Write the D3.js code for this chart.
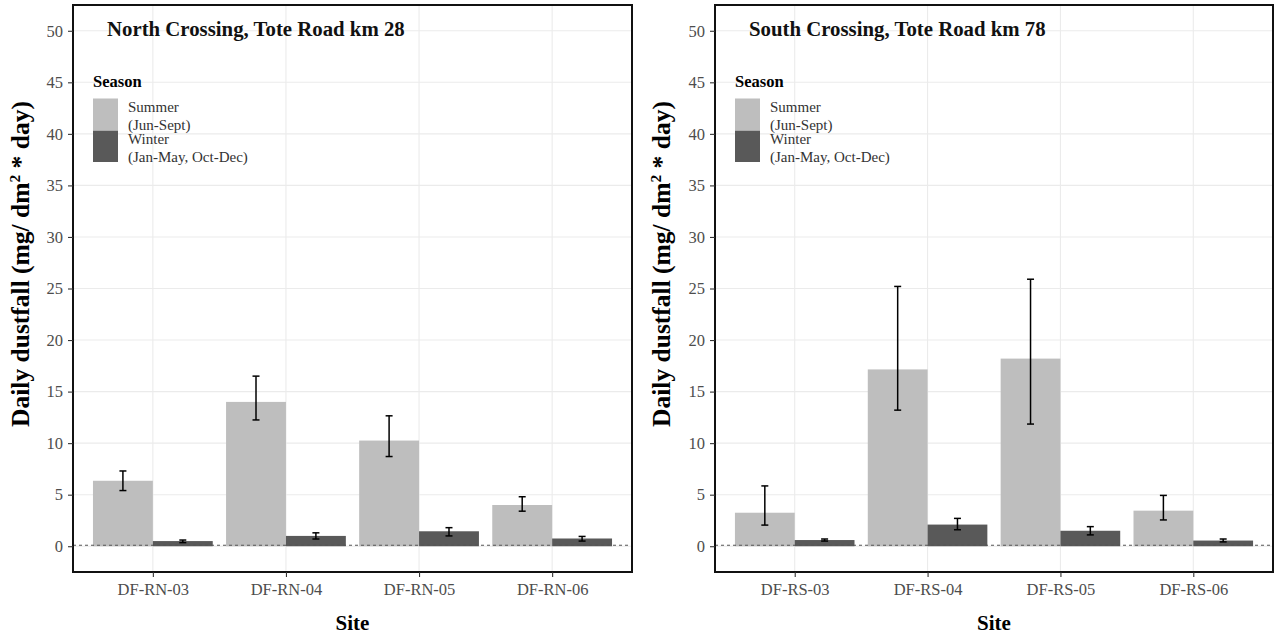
<!DOCTYPE html>
<html><head><meta charset="utf-8">
<script src="https://cdn.jsdelivr.net/npm/d3@7"></script>
<style>
body{margin:0;background:#fff;}
svg{display:block;font-family:"Liberation Serif","DejaVu Serif",serif;}
</style></head>
<body><svg id="c" width="1276" height="636"></svg>
<script>
const seasons = ["Summer", "Winter"];
const seasonLabels = [["Summer", "(Jun-Sept)"], ["Winter", "(Jan-May, Oct-Dec)"]];
const yTicks = [0, 5, 10, 15, 20, 25, 30, 35, 40, 45, 50];

const northTitle = "North Crossing, Tote Road km 28";
const northSites = ["DF-RN-03", "DF-RN-04", "DF-RN-05", "DF-RN-06"];
const northSummer = [6.35, 14.0, 10.25, 4.0];
const northSummerLo = [5.4, 12.25, 8.7, 3.4];
const northSummerHi = [7.3, 16.5, 12.65, 4.8];
const northWinter = [0.5, 1.0, 1.45, 0.75];
const northWinterLo = [0.35, 0.7, 1.0, 0.5];
const northWinterHi = [0.6, 1.3, 1.8, 0.95];

const southTitle = "South Crossing, Tote Road km 78";
const southSites = ["DF-RS-03", "DF-RS-04", "DF-RS-05", "DF-RS-06"];
const southSummer = [3.25, 17.15, 18.2, 3.45];
const southSummerLo = [2.05, 13.2, 11.85, 2.55];
const southSummerHi = [5.85, 25.2, 25.9, 4.93];
const southWinter = [0.6, 2.1, 1.5, 0.55];
const southWinterLo = [0.5, 1.6, 1.1, 0.42];
const southWinterHi = [0.7, 2.7, 1.9, 0.7];

const refLine = 0.1;

const colors = {Summer: "#bebebe", Winter: "#595959"};
const svg = d3.select("#c");

function panel(x0, x1, title, sites, sum, sumLo, sumHi, win, winLo, winHi, yTitleX) {
  const top = 5, bottom = 572;
  const y = d3.scaleLinear().domain([-2.5, 52.5]).range([bottom, top]);
  // discrete axis with 0.6 expansion on each side
  const x = d3.scalePoint().domain(sites).range([x0 + (x1 - x0) * 0.6 / 4.2, x1 - (x1 - x0) * 0.6 / 4.2]);
  const unit = x.step();
  const cx = s => x(s);
  const g = svg.append("g");
  // grid
  g.selectAll(".hg").data(yTicks).join("line")
    .attr("x1", x0).attr("x2", x1).attr("y1", d => y(d)).attr("y2", d => y(d))
    .attr("stroke", "#ebebeb").attr("stroke-width", 1.1);
  g.selectAll(".vg").data(sites).join("line")
    .attr("x1", d => cx(d)).attr("x2", d => cx(d)).attr("y1", top).attr("y2", bottom)
    .attr("stroke", "#ebebeb").attr("stroke-width", 1.1);
  // bars
  const bw = unit * 0.45;
  const data = [];
  sites.forEach((s, i) => {
    data.push({s, season: "Summer", v: sum[i], lo: sumLo[i], hi: sumHi[i], off: -1});
    data.push({s, season: "Winter", v: win[i], lo: winLo[i], hi: winHi[i], off: 0});
  });
  g.selectAll(".bar").data(data).join("rect")
    .attr("x", d => cx(d.s) + d.off * bw).attr("width", bw)
    .attr("y", d => y(d.v)).attr("height", d => y(0) - y(d.v))
    .attr("fill", d => colors[d.season]);
  // error bars
  const eb = g.selectAll(".eb").data(data).join("g");
  const ecx = d => cx(d.s) + d.off * bw + bw / 2;
  eb.append("line").attr("x1", ecx).attr("x2", ecx).attr("y1", d => y(d.lo)).attr("y2", d => y(d.hi))
    .attr("stroke", "#000").attr("stroke-width", 1.5);
  eb.append("line").attr("x1", d => ecx(d) - 3.5).attr("x2", d => ecx(d) + 3.5).attr("y1", d => y(d.lo)).attr("y2", d => y(d.lo))
    .attr("stroke", "#000").attr("stroke-width", 1.5);
  eb.append("line").attr("x1", d => ecx(d) - 3.5).attr("x2", d => ecx(d) + 3.5).attr("y1", d => y(d.hi)).attr("y2", d => y(d.hi))
    .attr("stroke", "#000").attr("stroke-width", 1.5);
  // dashed reference line
  g.append("line").attr("x1", x0).attr("x2", x1).attr("y1", y(refLine)).attr("y2", y(refLine))
    .attr("stroke", "#555").attr("stroke-width", 1.1).attr("stroke-dasharray", "3,3");
  // border
  g.append("rect").attr("x", x0).attr("y", top).attr("width", x1 - x0).attr("height", bottom - top)
    .attr("fill", "none").attr("stroke", "#111").attr("stroke-width", 2);
  // y axis
  const ya = g.append("g").attr("transform", `translate(${x0},0)`)
    .call(d3.axisLeft(y).tickValues(yTicks).tickSize(5).tickPadding(5));
  ya.select(".domain").remove();
  ya.selectAll("line").attr("stroke", "#333").attr("stroke-width", 1.1);
  ya.selectAll("text").attr("font-size", 16.5).attr("fill", "#4d4d4d").attr("font-family", "Liberation Serif");
  // x axis
  const xa = g.append("g").attr("transform", `translate(0,${bottom})`)
    .call(d3.axisBottom(x).tickSize(5).tickPadding(6));
  xa.select(".domain").remove();
  xa.selectAll("line").attr("stroke", "#333").attr("stroke-width", 1.1);
  xa.selectAll("text").attr("font-size", 16.5).attr("fill", "#4d4d4d").attr("font-family", "Liberation Serif");
  // axis titles
  g.append("text").attr("x", (x0 + x1) / 2).attr("y", 630).attr("text-anchor", "middle")
    .attr("font-size", 21).attr("font-weight", "bold").text("Site");
  const yt = g.append("text").attr("transform", `translate(${yTitleX},264) rotate(-90)`)
    .attr("text-anchor", "middle").attr("font-size", 25.5).attr("font-weight", "bold");
  yt.append("tspan").text("Daily dustfall (mg/ dm");
  yt.append("tspan").attr("dy", -9).attr("font-size", 15.5).text("2");
  yt.append("tspan").attr("dy", 9).text(" * day)");
  // title
  g.append("text").attr("x", x0 + 34).attr("y", 36).attr("font-size", 20.8).attr("font-weight", "bold")
    .attr("fill", "#111").text(title);
  // legend
  const lx = x0 + 20;
  g.append("text").attr("x", lx).attr("y", 87).attr("font-size", 16.5).attr("font-weight", "bold").text("Season");
  seasons.forEach((s, i) => {
    const ky = 98.5 + i * 32;
    g.append("rect").attr("x", lx).attr("y", ky).attr("width", 25).attr("height", 31.5).attr("fill", colors[s]);
    seasonLabels[i].forEach((t, j) => {
      g.append("text").attr("x", lx + 35).attr("y", ky + 13.5 + j * 17.5).attr("font-size", 15)
        .attr("fill", "#333").text(t);
    });
  });
}

panel(73, 632, northTitle, northSites, northSummer, northSummerLo, northSummerHi, northWinter, northWinterLo, northWinterHi, 29);
panel(715, 1273, southTitle, southSites, southSummer, southSummerLo, southSummerHi, southWinter, southWinterLo, southWinterHi, 670);
</script></body></html>
